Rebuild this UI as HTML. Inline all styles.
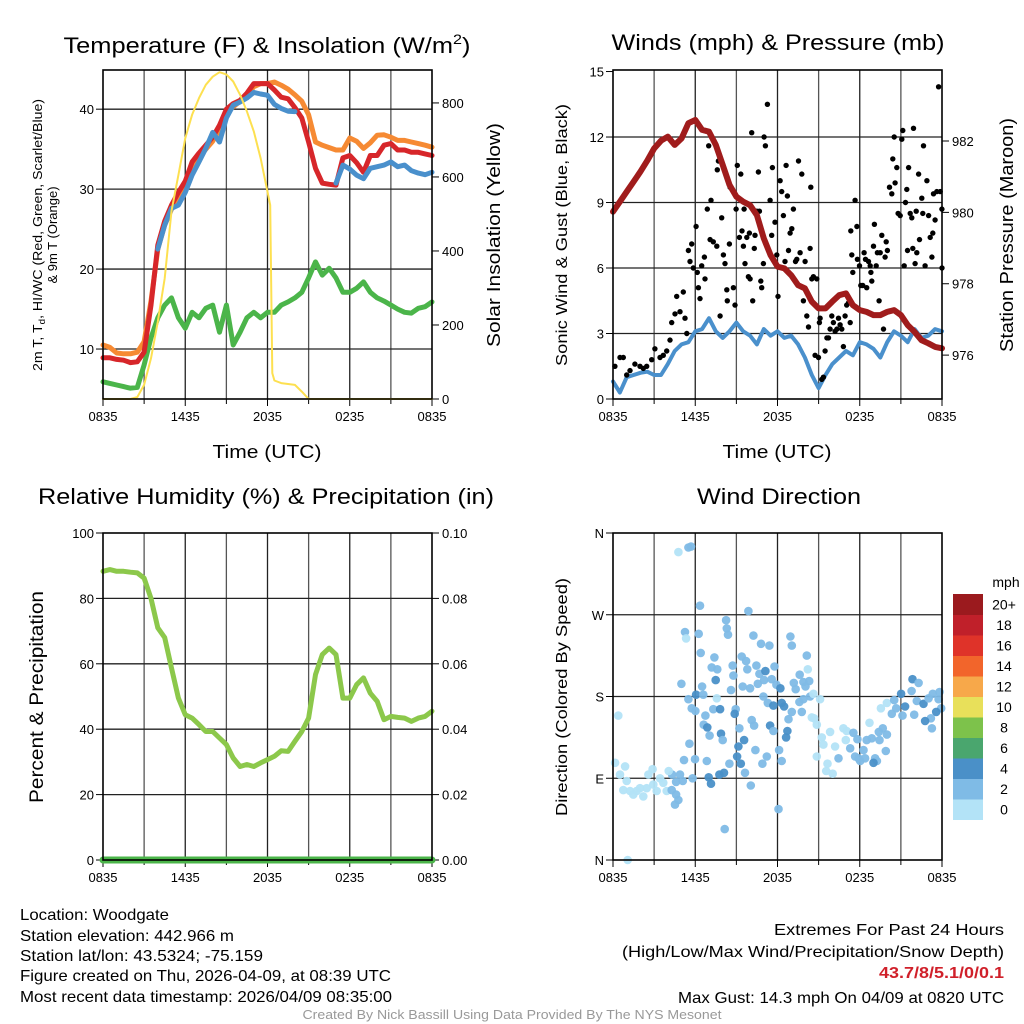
<!DOCTYPE html>
<html><head><meta charset="utf-8"><style>
html,body{margin:0;padding:0;background:#fff;}
svg{display:block;font-family:"Liberation Sans",Arial,sans-serif;}
</style></head><body>
<svg id="root" width="1024" height="1024" viewBox="0 0 1024 1024" xmlns="http://www.w3.org/2000/svg">
<rect x="0" y="0" width="1024" height="1024" fill="#fff"/>
<!-- Titles -->
<text x="267" y="53" font-size="22" text-anchor="middle" textLength="407" lengthAdjust="spacingAndGlyphs">Temperature (F) &amp; Insolation (W/m<tspan dy="-9" font-size="14">2</tspan><tspan dy="9">)</tspan></text>
<text x="778" y="50" font-size="22" text-anchor="middle" textLength="333" lengthAdjust="spacingAndGlyphs">Winds (mph) &amp; Pressure (mb)</text>
<text x="266" y="504" font-size="22" text-anchor="middle" textLength="456" lengthAdjust="spacingAndGlyphs">Relative Humidity (%) &amp; Precipitation (in)</text>
<text x="779" y="504" font-size="22" text-anchor="middle" textLength="164" lengthAdjust="spacingAndGlyphs">Wind Direction</text>
<!-- axis titles -->
<text x="267" y="458" font-size="18" text-anchor="middle" textLength="109" lengthAdjust="spacingAndGlyphs">Time (UTC)</text>
<text x="777" y="458" font-size="18" text-anchor="middle" textLength="109" lengthAdjust="spacingAndGlyphs">Time (UTC)</text>
<g transform="translate(42,235) rotate(-90)">
<text x="0" y="0" font-size="13" text-anchor="middle" textLength="272" lengthAdjust="spacingAndGlyphs">2m T, T<tspan dy="3" font-size="9">d</tspan><tspan dy="-3">, HI/WC (Red, Green, Scarlet/Blue)</tspan></text>
<text x="0" y="15" font-size="13" text-anchor="middle">&amp; 9m T (Orange)</text>
</g>
<text transform="translate(500,235) rotate(-90)" font-size="18" text-anchor="middle" textLength="224" lengthAdjust="spacingAndGlyphs">Solar Insolation (Yellow)</text>
<text transform="translate(567,235) rotate(-90)" font-size="16" text-anchor="middle" textLength="262" lengthAdjust="spacingAndGlyphs">Sonic Wind &amp; Gust (Blue, Black)</text>
<text transform="translate(1013,235) rotate(-90)" font-size="18" text-anchor="middle" textLength="234" lengthAdjust="spacingAndGlyphs">Station Pressure (Maroon)</text>
<text transform="translate(43,697) rotate(-90)" font-size="19" text-anchor="middle" textLength="212" lengthAdjust="spacingAndGlyphs">Percent &amp; Precipitation</text>
<text transform="translate(567,697) rotate(-90)" font-size="16" text-anchor="middle" textLength="238" lengthAdjust="spacingAndGlyphs">Direction (Colored By Speed)</text>
<!-- footer -->
<g font-size="16">
<text x="20" y="920" textLength="149" lengthAdjust="spacingAndGlyphs">Location: Woodgate</text>
<text x="20" y="941" textLength="214" lengthAdjust="spacingAndGlyphs">Station elevation: 442.966 m</text>
<text x="20" y="961" textLength="243" lengthAdjust="spacingAndGlyphs">Station lat/lon: 43.5324; -75.159</text>
<text x="20" y="981" textLength="371" lengthAdjust="spacingAndGlyphs">Figure created on Thu, 2026-04-09, at 08:39 UTC</text>
<text x="20" y="1002" textLength="372" lengthAdjust="spacingAndGlyphs">Most recent data timestamp: 2026/04/09 08:35:00</text>
</g>
<g font-size="16" text-anchor="end">
<text x="1004" y="935" textLength="230" lengthAdjust="spacingAndGlyphs">Extremes For Past 24 Hours</text>
<text x="1004" y="957" textLength="382" lengthAdjust="spacingAndGlyphs">(High/Low/Max Wind/Precipitation/Snow Depth)</text>
<text x="1004" y="978" fill="#d0202a" font-weight="bold" textLength="125" lengthAdjust="spacingAndGlyphs">43.7/8/5.1/0/0.1</text>
<text x="1004" y="1003" textLength="326" lengthAdjust="spacingAndGlyphs">Max Gust: 14.3 mph On 04/09 at 0820 UTC</text>
</g>
<text x="512" y="1019" font-size="13" fill="#999" text-anchor="middle" textLength="419" lengthAdjust="spacingAndGlyphs">Created By Nick Bassill Using Data Provided By The NYS Mesonet</text>
<g id="plots"></g>
</svg>
<script>
// ---------- data ----------
const hours = [0,0.5,1,1.5,2,2.5,3,3.5,4,4.5,5,5.5,6,6.5,7,7.5,8,8.5,9,9.5,10,10.5,11,11.5,12,12.5,13,13.5,14,14.5,15,15.5,16,16.5,17,17.5,18,18.5,19,19.5,20,20.5,21,21.5,22,22.5,23,23.5,24];
const xTickLabels = ["0835","1435","2035","0235","0835"];
const tempRed = [8.9,8.9,8.7,8.6,8.3,8.4,9.6,15.5,23,26,28,29.6,31,33.4,34.5,35.5,36.5,38,40,40.7,41.1,42,43.2,43.2,43.2,42.4,41.5,41.3,40.2,38.9,35.9,32.6,30.75,30.6,30.5,33.9,34.2,33.3,32.1,34.2,34.2,35.5,35.7,34.9,34.9,34.6,34.6,34.4,34.2];
const tempOrange = [10.5,10.2,9.5,9.4,9.4,9.6,10.9,16,22.5,25.5,27.5,29,30.5,32.5,34,35,36,37.5,39.5,40.3,41,41.8,42.8,43.2,43.2,43.4,43,42.5,41.8,41,39.3,35.9,35.5,35.2,34.9,34.9,36.4,36,35.1,35.8,36.75,36.8,36.5,36.1,36.1,35.9,35.7,35.5,35.25];
const tempBlue = [null,null,null,null,null,null,null,null,22.5,25.5,27.6,28,29.6,31.75,33.4,35.1,37.1,35.9,38.9,40.5,40.9,41.4,42.1,41.9,41.75,40.6,40.1,39.75,39.7,null,null,null,null,null,30.75,33,32.5,31.75,31.3,32.6,32.8,33,33.4,32.8,33,32.3,32,31.8,32.1];
const dewGreen = [5.9,5.7,5.5,5.3,5.1,5.2,8,11.4,13.9,15.5,16.4,13.9,12.6,14.6,13.9,15.1,15.5,12.1,15.5,10.5,12.1,13.9,14.6,13.9,14.6,14.6,15.5,15.9,16.4,17.1,18.9,20.9,19.25,20.1,18.9,17.1,17.1,17.6,18.4,17.1,16.4,16,15.5,15,14.6,14.5,15.1,15.3,15.9];
const insolHours = [0,2,2.5,3,3.5,4,4.5,5,5.5,6,6.5,7,7.5,8,8.5,9,9.5,10,10.5,11,11.5,12,12.2,12.35,12.5,13,14,14.5,15,24];
const insolValues = [0,0,5,38,110,209,326,508,605,705,768,813,849,871,883,877,858,822,777,723,651,560,524,70,50,43,38,20,0,0];
const tempTicks = [10,20,30,40];
const insolTicks = [0,200,400,600,800];

const windSpeed = [0.8,0.3,1.0,1.1,1.2,1.25,1.1,1.1,1.6,2.2,2.5,2.6,3.1,3.2,3.7,3.1,2.8,3.1,3.5,3.1,2.9,2.5,3.2,2.9,3.1,2.8,2.9,2.5,1.9,1.1,0.5,1.1,1.6,1.9,2.2,2.0,2.6,2.5,2.3,1.9,2.6,3.1,2.9,2.6,3.2,2.8,2.9,3.2,3.1];
const pressure = [980.02,980.3,980.58,980.86,981.14,981.45,981.79,982.01,982.12,981.89,982.07,982.5,982.59,982.31,982.26,981.89,981.33,980.77,980.44,980.3,980.2,979.92,979.27,978.8,978.48,978.43,978.24,977.96,977.87,977.5,977.31,977.31,977.5,977.68,977.73,977.4,977.26,977.21,977.12,977.12,977.21,977.26,977.12,976.84,976.65,976.42,976.33,976.23,976.19];
const gustHours = [0.14,0.51,0.75,1.0,1.24,1.6,1.97,2.21,2.46,2.82,3.06,3.43,3.67,3.92,4.16,4.28,4.52,4.65,4.89,5.13,5.25,5.38,5.5,5.62,5.74,5.86,6.06,6.15,6.23,6.35,6.47,6.71,6.67,6.88,6.98,7.08,7.15,7.32,7.57,7.61,7.69,7.81,7.93,8.05,8.17,8.3,8.34,8.49,8.54,8.78,8.9,8.98,9.07,9.22,9.32,9.41,9.51,9.56,9.63,9.76,9.88,9.95,10.0,10.12,10.19,10.31,10.36,10.49,10.61,10.68,10.78,10.85,10.97,11.02,11.12,11.26,11.46,11.58,11.63,11.82,11.95,12.04,12.19,12.31,12.43,12.55,12.63,12.72,12.8,12.92,13.04,13.16,13.31,13.41,13.53,13.65,13.77,13.89,14.01,14.14,14.26,14.38,14.43,14.5,14.62,14.74,14.87,14.99,15.06,15.11,15.23,15.35,15.47,15.6,15.72,15.84,15.96,16.08,16.2,16.33,16.45,16.57,16.69,16.81,16.93,17.05,17.18,17.3,17.35,17.42,17.49,17.66,17.79,17.83,17.98,18.08,18.22,18.32,18.42,18.51,18.64,18.76,18.81,18.88,19.0,19.07,19.2,19.29,19.41,19.49,19.61,19.73,19.85,19.93,20.02,20.17,20.34,20.41,20.51,20.58,20.7,20.8,20.95,21.07,21.14,21.24,21.34,21.43,21.48,21.56,21.68,21.8,21.87,21.92,22.04,22.12,22.16,22.29,22.36,22.53,22.65,22.6,22.77,22.9,23.02,23.14,23.26,23.33,23.38,23.5,23.62,23.75,23.87,23.99,24.0];
const gustValues = [1.5,1.9,1.9,1.1,1.3,1.6,1.5,1.4,1.5,1.8,2.3,1.9,2.0,2.2,2.7,3.5,3.9,4.7,4.0,4.9,3.7,3.0,6.8,6.3,7.1,6.0,7.9,5.8,5.1,4.6,6.1,5.5,6.5,8.7,11.6,7.3,9.1,7.2,7.0,10.5,10.9,3.8,8.3,6.6,6.2,5.0,4.5,7.1,9.7,5.1,4.3,8.7,10.7,7.4,10.3,7.7,7.0,8.7,6.2,7.4,5.6,7.6,5.5,12.2,4.5,6.9,7.5,8.6,10.4,8.6,5.4,5.1,6.2,12.0,11.6,13.5,9.1,7.5,10.6,8.1,6.6,4.7,10.0,9.5,8.4,6.3,10.7,9.3,6.8,7.6,7.8,8.7,6.3,6.4,10.9,6.7,10.3,4.5,6.3,3.8,3.3,6.9,9.7,5.5,5.6,2.0,5.5,1.9,3.5,3.7,0.9,1.0,2.2,2.8,2.8,3.2,3.8,3.5,3.1,3.2,3.7,3.4,3.2,2.4,3.8,4.3,4.4,3.5,7.7,6.6,5.8,9.1,7.9,6.4,6.1,5.2,5.2,6.7,6.4,5.1,6.3,6.1,5.8,5.4,7.0,8.0,6.1,6.7,4.5,6.7,7.5,3.2,6.5,7.2,6.8,9.7,9.4,11.0,12.0,9.9,10.6,8.5,8.4,11.9,12.3,6.1,9.0,9.6,6.8,10.6,8.5,8.3,6.9,12.4,6.2,8.6,6.7,10.3,7.3,9.2,11.6,8.5,6.1,10.0,8.4,7.4,6.5,7.6,9.4,8.2,9.5,14.3,9.5,8.7,6.0];
const windTicks = [0,3,6,9,12,15];
const pressureTicks = [976,978,980,982];

const rhValues = [88.3,88.8,88.3,88.3,88,87.8,86.2,80,71,68,58.7,49.5,44.4,43.4,41.4,39.3,39.3,37.3,35.3,31.2,28.6,29.2,28.6,29.7,30.7,31.7,33.4,33.2,36.3,39.3,43.4,56.7,62.8,64.8,62.8,49.5,49.5,53.6,55.7,51,48.5,42.9,43.9,43.6,43.4,42.4,43.4,43.9,45.5];
const precipValues = [0,0,0,0,0,0,0,0,0,0,0,0,0,0,0,0,0,0,0,0,0,0,0,0,0,0,0,0,0,0,0,0,0,0,0,0,0,0,0,0,0,0,0,0,0,0,0,0,0];
const rhTicks = [0,20,40,60,80,100];
const precipTicks = ["0.00","0.02","0.04","0.06","0.08","0.10"];

const dirHours = [4.77,5.5,5.69,6.35,9.88,8.25,8.3,8.39,5.25,5.33,6.25,10.24,12.94,13.04,10.8,11.41,6.4,7.4,9.39,9.71,14.14,14.21,7.2,7.61,8.73,9.8,10.46,11.78,8.78,10.68,11.12,13.62,4.99,7.49,6.5,9.46,10.0,10.56,11.02,11.58,11.92,12.21,13.19,13.89,14.31,8.61,6.06,6.59,5.5,7.57,10.97,13.33,14.04,14.38,14.62,15.11,11.29,11.7,12.31,12.48,13.6,13.89,5.74,6.01,7.32,7.81,8.95,8.88,6.74,13.04,13.77,14.5,14.67,12.8,10.12,10.29,6.62,6.88,9.22,11.46,11.7,12.72,12.63,7.05,7.88,8.0,9.56,5.57,9.15,10.39,12.12,11.22,9.05,5.18,5.98,6.84,8.49,9.32,10.9,12.31,9.63,6.98,7.76,8.1,7.15,5.81,4.31,4.89,4.6,5.09,10.05,12.07,8.15,1.07,0.39,0.15,0.88,0.51,1.0,0.75,1.24,1.73,2.21,2.46,2.94,3.43,3.67,3.92,2.89,4.06,4.28,4.6,4.77,4.52,3.19,1.48,1.97,2.58,14.87,15.23,15.35,15.84,16.81,17.05,16.98,16.2,14.87,15.65,15.55,16.03,16.45,17.3,17.54,17.83,17.66,18.03,18.27,18.51,18.88,19.12,19.44,19.68,19.9,19.98,19.39,18.71,19.54,19.98,20.51,20.34,20.66,21.02,21.31,21.78,21.85,22.29,21.12,21.97,22.16,22.65,23.02,23.33,23.82,23.75,23.94,23.58,23.19,22.77,23.26,19.25,19.0,17.91,18.39];
const dirDegrees = [339,344,345,280,274,264,255,248,251,244,249,247,246,236,238,236,228,223,224,219,225,210,212,210,214,210,214,213,203,205,208,204,194,198,191,191,189,194,198,199,193,189,195,196,197,187,182,182,177,178,180,188,191,180,183,177,173,170,173,169,174,177,167,164,166,166,166,161,159,163,163,157,156,155,154,148,149,146,145,148,142,142,135,137,139,132,132,128,125,121,121,114,114,110,111,109,106,106,106,109,96,91,94,96,84,90,94,94,86,87,82,56,34,0,159,107,103,94,87,77,76,76,70,79,83,90,85,76,100,98,77,72,66,61,76,72,79,94,149,135,127,141,145,142,132,125,114,106,98,95,112,123,140,133,114,109,121,132,134,112,132,145,120,138,141,151,167,173,176,161,167,183,169,186,199,195,159,160,175,172,178,183,185,177,167,163,156,153,145,109,107,112,112];
const dirSpeeds = [1,3,3,3,3,3,3,3,3,1,3,3,3,3,3,3,3,3,3,3,3,1,3,3,3,3,3,3,3,3,5,3,3,5,3,3,3,3,3,3,3,5,3,3,3,3,5,3,3,1,3,3,3,3,1,1,3,5,5,5,3,3,3,3,3,5,3,5,3,3,3,1,1,3,3,3,3,5,3,5,3,5,5,3,5,3,5,3,5,3,3,3,5,3,3,3,3,5,3,3,3,5,5,5,5,3,3,3,3,3,3,3,3,1,1,1,1,1,1,1,1,1,1,1,1,1,1,1,1,1,3,3,3,3,1,1,1,1,1,1,1,1,1,1,1,1,1,1,1,1,3,3,3,3,3,3,3,3,3,3,3,3,3,3,3,1,1,1,3,3,3,5,5,3,5,3,3,3,3,5,3,3,3,3,3,5,3,5,3,3,5,3,3,3,3];
const dirTickLabels = ["N","E","S","W","N"];
const colorbarLabels = ["0","2","4","6","8","10","12","14","16","18","20+"];
const colorbarColors = ["#b3e3f7","#7fbbe6","#4a90c8","#4aa66e","#7dc24b","#e8e05a","#f7a84a","#f2652b","#df3329","#c0202a","#9b1a1e"];

// ---------- drawing ----------
const NS = "http://www.w3.org/2000/svg";
const plots = document.getElementById("plots");
function el(tag, parent){ const e=document.createElementNS(NS,tag); parent.appendChild(e); return e; }
function scale(d0,d1,r0,r1){ return v => r0 + (v-d0)/(d1-d0)*(r1-r0); }

function linePath(xs, ys, fx, fy){
  let d="", pen=false;
  for(let i=0;i<xs.length;i++){
    if(ys[i]===null){pen=false;continue;}
    d += (pen?"L":"M")+fx(xs[i]).toFixed(1)+","+fy(ys[i]).toFixed(1);
    pen=true;
  }
  return d;
}

function frame(g, x0, y0, w, h, hGrid, fy){
  const fx = scale(0,24,x0,x0+w);
  for(let k=1;k<8;k++){
    const l = el("line", g);
    
    
    const x = fx(k*3);
    l.setAttribute("x1",x);l.setAttribute("x2",x);l.setAttribute("y1",y0);l.setAttribute("y2",y0+h);
    l.setAttribute("stroke", k%2===0 ? "#222":"#555"); l.setAttribute("stroke-width","1.3");
  }
  hGrid.forEach(v=>{
    const l = el("line", g);
    
    
    const y = fy(v);
    l.setAttribute("x1",x0);l.setAttribute("x2",x0+w);l.setAttribute("y1",y);l.setAttribute("y2",y);
    l.setAttribute("stroke","#222"); l.setAttribute("stroke-width","1.3");
  });
  for(let k=0;k<=8;k++){
    const t = el("line", g);
    
    
    const x = fx(k*3);
    t.setAttribute("x1",x);t.setAttribute("x2",x);t.setAttribute("y1",y0+h);t.setAttribute("y2",y0+h+(k%2===0?7:5));
    t.setAttribute("stroke","#000");
  }
  xTickLabels.forEach((s,i)=>{
    const t = el("text", g);
    
    
    t.setAttribute("x",fx(i*6)); t.setAttribute("y",y0+h+22);
    t.setAttribute("font-size","13"); t.setAttribute("text-anchor","middle");
    t.textContent = s;
  });
  return fx;
}
function border(g,x0,y0,w,h){
  const r = el("rect", g);
  
  
  r.setAttribute("x",x0);r.setAttribute("y",y0);r.setAttribute("width",w);r.setAttribute("height",h);
  r.setAttribute("fill","none");r.setAttribute("stroke","#000");r.setAttribute("stroke-width","1.6");
}
function yTicks(g, vals, labels, fy, x, side){
  vals.forEach((v,i)=>{
    const y = fy(v);
    const t = el("line", g);
    
    
    t.setAttribute("x1",x);t.setAttribute("x2",x+(side<0?-7:7));t.setAttribute("y1",y);t.setAttribute("y2",y);
    t.setAttribute("stroke","#000");
    const lb = el("text", g);
    
    
    lb.setAttribute("x", side<0 ? x-9 : x+10); lb.setAttribute("y", y+5);
    lb.setAttribute("font-size","13"); lb.setAttribute("text-anchor", side<0?"end":"start");
    lb.textContent = labels[i];
  });
}
function path(g, d, color, width, name){
  const p = el("path", g);
  
  
  p.setAttribute("d", d); p.setAttribute("fill","none"); p.setAttribute("stroke",color);
  p.setAttribute("stroke-width",width); p.setAttribute("stroke-linejoin","round"); p.setAttribute("stroke-linecap","round");
}

// Panel 1: temperature
(function(){
  const g = el("g", plots);
  
  
  const x0=103,y0=70,w=329,h=329;
  const fy = scale(3.75,44.9,y0+h,y0);
  const fyR = scale(0,889,y0+h,y0);
  const fx = frame(g,x0,y0,w,h,tempTicks,fy);
  yTicks(g,tempTicks,tempTicks.map(String),fy,x0,-1);
  yTicks(g,insolTicks,insolTicks.map(String),fyR,x0+w,1);
  path(g, linePath(hours,dewGreen,fx,fy), "#4bb54a", 5, "dewpoint-line");
  path(g, linePath(hours,tempOrange,fx,fy), "#f68a33", 5, "temp-9m-line");
  path(g, linePath(hours,tempRed,fx,fy), "#d7262a", 5, "temp-2m-line");
  path(g, linePath(hours,tempBlue,fx,fy), "#4a90cc", 5, "heat-index-windchill-line");
  path(g, linePath(insolHours,insolValues,fx,fyR), "#fde050", 2, "insolation-line");
  border(g,x0,y0,w,h);
})();

// Panel 2: winds
(function(){
  const g = el("g", plots);
  
  
  const x0=613,y0=70,w=329,h=329;
  const fy = scale(0,15.07,y0+h,y0);
  const fyR = scale(974.77,983.99,y0+h,y0);
  const fx = frame(g,x0,y0,w,h,[3,6,9,12],fy);
  yTicks(g,windTicks,windTicks.map(String),fy,x0,-1);
  yTicks(g,pressureTicks,pressureTicks.map(String),fyR,x0+w,1);
  path(g, linePath(hours,windSpeed,fx,fy), "#4a90cc", 4, "wind-speed-line");
  gustHours.forEach((hh,i)=>{
    const c = el("circle", g);
    
    
    c.setAttribute("cx",fx(hh).toFixed(1)); c.setAttribute("cy",fy(gustValues[i]).toFixed(1));
    c.setAttribute("r","2.7"); c.setAttribute("fill","#000");
  });
  path(g, linePath(hours,pressure,fx,fyR), "#a01c1c", 6, "pressure-line");
  border(g,x0,y0,w,h);
})();

// Panel 3: humidity
(function(){
  const g = el("g", plots);
  
  
  const x0=103,y0=533,w=329,h=327;
  const fy = scale(0,100,y0+h,y0);
  const fyR = scale(0,0.10,y0+h,y0);
  const fx = frame(g,x0,y0,w,h,[20,40,60,80],fy);
  yTicks(g,rhTicks,rhTicks.map(String),fy,x0,-1);
  yTicks(g,precipTicks.map(Number),precipTicks,fyR,x0+w,1);
  path(g, linePath(hours,rhValues,fx,fy), "#8cc84b", 5, "relative-humidity-line");
  path(g, linePath(hours,precipValues,fx,fyR), "#4bb54a", 7, "precipitation-line");
  border(g,x0,y0,w,h);
})();

// Panel 4: wind direction
(function(){
  const g = el("g", plots);
  
  
  const x0=613,y0=533,w=329,h=327;
  const fy = scale(0,360,y0+h,y0);
  const fx = frame(g,x0,y0,w,h,[90,180,270],fy);
  yTicks(g,[0,90,180,270,360],dirTickLabels,fy,x0,-1);
  dirHours.forEach((hh,i)=>{
    const c = el("circle", g);
    
    
    c.setAttribute("cx",fx(hh).toFixed(1)); c.setAttribute("cy",fy(dirDegrees[i]).toFixed(1));
    c.setAttribute("r","4.3");
    c.setAttribute("fill", colorbarColors[Math.min(10,Math.floor(dirSpeeds[i]/2))]);
    c.setAttribute("fill-opacity","0.95");
  });
  border(g,x0,y0,w,h);
  const cb = el("g", plots);
  
  
  const cbTop=594, cbH=20.5;
  colorbarColors.forEach((col,i)=>{
    const r = el("rect", cb);
    
    
    const y = cbTop + (10-i)*cbH;
    r.setAttribute("x",953); r.setAttribute("y",y.toFixed(1)); r.setAttribute("width",30); r.setAttribute("height",cbH+0.5);
    r.setAttribute("fill",col);
    const t = el("text", cb);
    
    
    t.setAttribute("x",1004); t.setAttribute("y",(y+cbH/2+5).toFixed(1));
    t.setAttribute("font-size","14"); t.setAttribute("text-anchor","middle");
    t.textContent = colorbarLabels[i];
  });
  const u = el("text", cb);
  
  
  u.setAttribute("x",1006); u.setAttribute("y",587); u.setAttribute("font-size","14"); u.setAttribute("text-anchor","middle");
  u.textContent = "mph";
})();
</script>
</body></html>
